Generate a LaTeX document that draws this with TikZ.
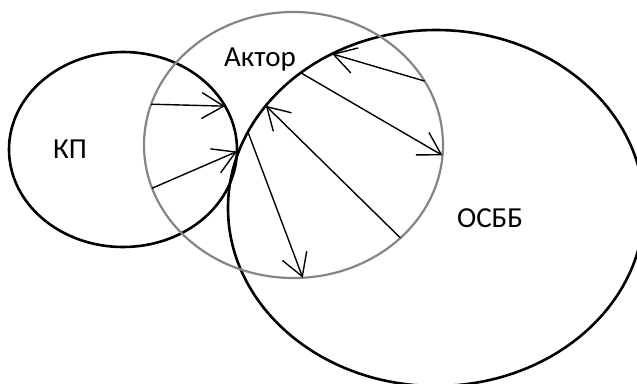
\documentclass[tikz,border=0pt]{standalone}
\usepackage{fontspec}
\setmainfont{Carlito}
\usetikzlibrary{shapes.geometric,arrows.meta}
\tikzstyle{elipse} = [draw=black, line width=2.6pt, ellipse, outer sep=0pt, inner sep=0pt]
\tikzstyle{elipsegris} = [draw=black!48, line width=2.2pt, ellipse, outer sep=0pt, inner sep=0pt]
\tikzstyle{flecha} = [line width=1.4pt, -{Straight Barb[length=22pt,width=26pt]}]
\tikzstyle{titulo} = [font=\fontsize{29}{32}\selectfont, anchor=base, inner sep=0pt]

\begin{document}
\begin{tikzpicture}[x=1pt,y=-1pt]
\useasboundingbox (0,0) rectangle (637,383);
\clip (0,0) rectangle (637,383);
\node[elipse, minimum width=228pt, minimum height=195pt] (kp) at (123,149.5) {};
\node[elipse, minimum width=416pt, minimum height=356pt] (osbb) at (436,208) {};
\node[elipsegris, minimum width=299pt, minimum height=266pt] (aktor) at (293.5,145) {};
\node[titulo] (tkp) at (70,158) {КП};
\node[titulo] (taktor) at (260,66) {Актор};
\node[titulo] (tosbb) at (490,227) {ОСББ};
\draw[flecha] (aktor.164) -- (kp.23);
\draw[flecha] (aktor.197) -- (kp.359);
\draw[flecha] (aktor.26) -- (osbb.124);
\draw[flecha] (osbb.135) -- (aktor.356);
\draw[flecha] (aktor.319) -- (osbb.149);
\draw[flecha] (osbb.158) -- (aktor.274);
\end{tikzpicture}
\end{document}
